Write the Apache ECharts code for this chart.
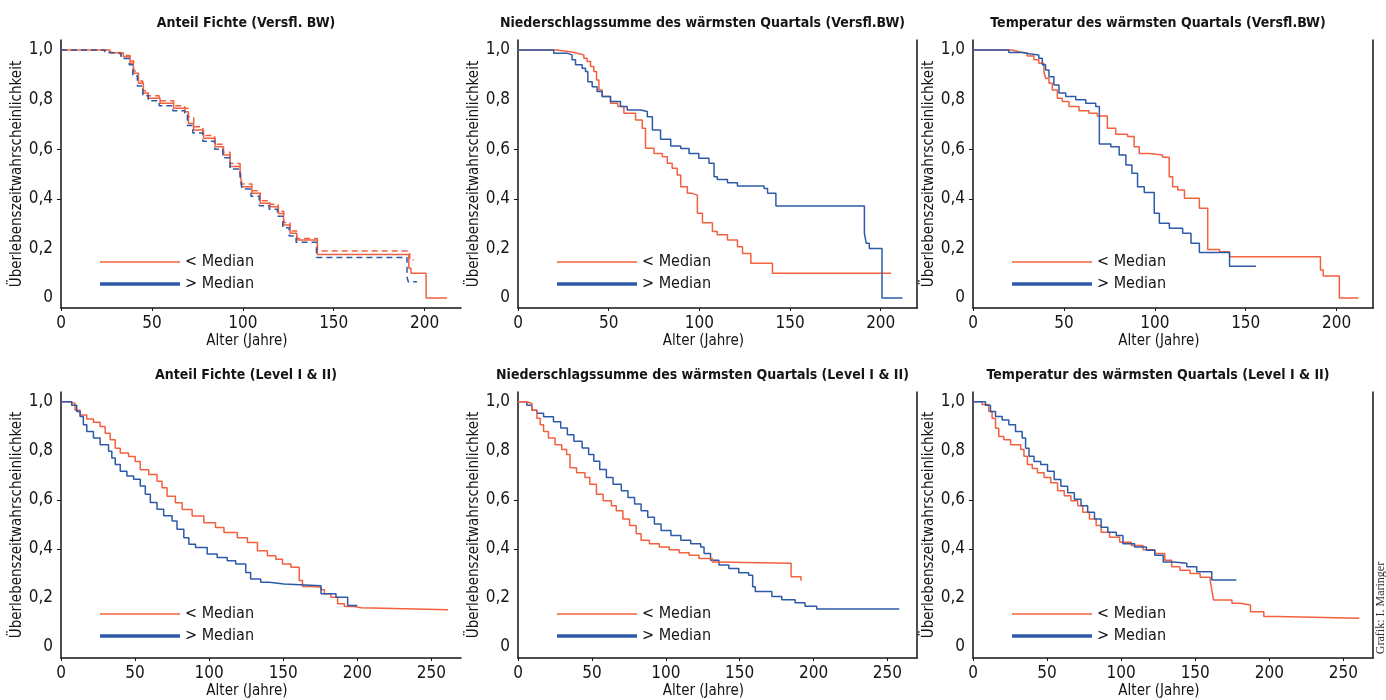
<!DOCTYPE html>
<html>
<head>
<meta charset="utf-8">
<script src="https://cdn.jsdelivr.net/npm/echarts@6/dist/echarts.min.js"></script>
<style>
  html, body { margin: 0; padding: 0; background: #fff; }
  #chart { width: 1386px; height: 700px; }
</style>
</head>
<body>
<div id="chart"></div>
<script>
// Kaplan-Meier survival curves: [age in years, survival probability]
const panelTitles = [
  'Anteil Fichte (Versfl. BW)',
  'Niederschlagssumme des wärmsten Quartals (Versfl.BW)',
  'Temperatur des wärmsten Quartals (Versfl.BW)',
  'Anteil Fichte (Level I & II)',
  'Niederschlagssumme des wärmsten Quartals (Level I & II)',
  'Temperatur des wärmsten Quartals (Level I & II)'
];
const legendLabels = ['< Median', '> Median'];
const yAxisTitle = 'Überlebenszeitwahrscheinlichkeit';
const xAxisTitle = 'Alter (Jahre)';
const creditText = 'Grafik: I. Maringer';
const yTickValues = [0, 0.2, 0.4, 0.6, 0.8, 1.0];
const yTickMarks = [0.4, 0.6];
const xTicksVersfl = [0, 50, 100, 150, 200];
const xTicksLevel = [0, 50, 100, 150, 200, 250];

// Anteil Fichte (Versfl. BW)
const fichteVersflLow = [[0,1],[23,1],[27,0.989],[34.3,0.973],[38,0.946],[39.8,0.906],[42.6,0.866],[45.3,0.826],[48,0.805],[54.5,0.785],[61.9,0.765],[68.3,0.751],[70.1,0.704],[72.9,0.677],[78.4,0.644],[84.8,0.61],[89.4,0.577],[93,0.53],[98.5,0.503],[99.5,0.449],[105,0.422],[109.6,0.382],[115,0.368],[119.6,0.341],[122.4,0.294],[126,0.261],[129.7,0.234],[141,0.176],[191.3,0.12],[192.5,0.1],[200.8,0],[212.3,0]];
const fichteVersflLowDashed = [[0,1],[22,1],[26,0.99],[33,0.978],[38,0.955],[40,0.915],[42.5,0.875],[45,0.835],[48,0.815],[54,0.795],[62,0.775],[68,0.765],[70,0.73],[73,0.69],[78,0.655],[84.5,0.62],[89,0.588],[93,0.542],[98.5,0.515],[99.5,0.46],[105,0.432],[109.5,0.392],[115,0.378],[119.5,0.35],[122.5,0.305],[126,0.27],[129.7,0.24],[141,0.19],[191.8,0.153],[194,0.153]];
const fichteVersflHighDashed = [[0,1],[20,1],[24,0.99],[27,0.985],[33,0.965],[37.5,0.94],[39.5,0.895],[42,0.855],[45,0.815],[48,0.795],[54,0.775],[61.5,0.755],[68,0.74],[69.5,0.695],[72.5,0.665],[78,0.632],[84.5,0.6],[89,0.565],[93,0.52],[98.5,0.49],[99.5,0.44],[104.5,0.41],[109,0.372],[114.5,0.358],[119,0.33],[122,0.283],[125.5,0.25],[129.3,0.225],[140.5,0.164],[190.3,0.085],[191,0.066],[195.8,0.066]];

// Niederschlagssumme des wärmsten Quartals (Versfl. BW)
const nsVersflLow = [[0,1],[21.5,0.993],[28.9,0.987],[32.6,0.98],[36.3,0.966],[38.1,0.953],[40,0.933],[41.8,0.913],[43.3,0.879],[44.6,0.839],[46.4,0.812],[51,0.785],[55,0.772],[58.4,0.745],[64.8,0.718],[68.5,0.684],[70.3,0.604],[75,0.583],[79.6,0.57],[82.3,0.543],[85,0.523],[87.8,0.496],[89.7,0.449],[93.4,0.422],[96,0.415],[98.9,0.342],[101.7,0.304],[107.2,0.268],[109.9,0.255],[115.5,0.234],[121,0.207],[123.8,0.18],[128.4,0.14],[140.3,0.1],[205.7,0.1]];
const nsVersflHigh = [[0,1],[19.7,0.987],[27.1,0.98],[29.8,0.96],[31.7,0.94],[35.4,0.926],[37.2,0.913],[38.5,0.872],[40.9,0.852],[43.6,0.832],[46.4,0.812],[51,0.792],[56.5,0.772],[60.2,0.758],[67.6,0.752],[71.3,0.731],[74.1,0.677],[78.6,0.64],[84.2,0.613],[89.7,0.603],[94.3,0.583],[99.7,0.563],[105.3,0.543],[108.1,0.489],[109.9,0.478],[115.5,0.465],[121,0.452],[135.7,0.442],[137.6,0.422],[142.2,0.371],[191,0.261],[192,0.221],[193.7,0.2],[200.7,0],[212,0]];

// Temperatur des wärmsten Quartals (Versfl. BW)
const tempVersflLow = [[0,1],[21.5,0.993],[25.2,0.987],[29.8,0.976],[33.5,0.96],[36.2,0.946],[39,0.913],[39.9,0.886],[41.8,0.866],[43.6,0.839],[46.4,0.805],[49.1,0.792],[52.8,0.772],[58.3,0.755],[63.8,0.745],[68.4,0.734],[73.9,0.684],[78.5,0.66],[85,0.651],[88.6,0.61],[91.4,0.583],[96.9,0.577],[104.3,0.567],[107.9,0.489],[109.8,0.449],[112.6,0.436],[116.3,0.402],[124.5,0.362],[129.1,0.196],[135.6,0.187],[141.1,0.167],[191.1,0.113],[192.6,0.089],[201.5,0],[212,0]];
const tempVersflHigh = [[0,1],[19.7,0.99],[27.1,0.984],[31.7,0.98],[36.2,0.966],[38.1,0.94],[39.9,0.919],[41.8,0.892],[44.5,0.859],[47.3,0.826],[51,0.812],[56.5,0.799],[62,0.785],[67.5,0.772],[69.5,0.621],[75.8,0.61],[80.4,0.577],[84.1,0.536],[87.4,0.503],[90.5,0.449],[94.2,0.425],[99.7,0.342],[102.5,0.302],[108,0.281],[115.3,0.261],[119.9,0.221],[124.5,0.184],[141.1,0.128],[155.6,0.128]];

// Anteil Fichte (Level I & II)
const fichteLevelLow = [[0,1],[6.1,0.993],[9.5,0.966],[12.9,0.946],[17.4,0.93],[21.9,0.917],[26.4,0.899],[29.8,0.872],[33.2,0.845],[36.6,0.811],[40,0.791],[45.6,0.777],[50.1,0.757],[53.5,0.723],[59.2,0.703],[64.8,0.676],[68.2,0.649],[71.6,0.615],[77.2,0.588],[81.8,0.561],[88.5,0.534],[96.4,0.507],[104.3,0.487],[110,0.467],[119,0.446],[125.8,0.426],[132.6,0.392],[139.3,0.372],[145,0.358],[149.5,0.338],[155.2,0.325],[160.8,0.271],[163,0.247],[169.8,0.244],[175.5,0.233],[177.8,0.217],[182.2,0.203],[186.7,0.176],[191.3,0.165],[198,0.16],[202.5,0.152],[261.3,0.152]];
const fichteLevelHigh = [[0,1],[7.2,0.986],[10.6,0.96],[12.9,0.94],[15.1,0.906],[17.4,0.879],[21.9,0.852],[26.4,0.825],[32.1,0.798],[34.3,0.771],[36.6,0.744],[40,0.717],[44.5,0.697],[49,0.684],[53.5,0.657],[56.9,0.623],[60.3,0.589],[64.8,0.562],[69.3,0.535],[75,0.514],[78.3,0.48],[82.9,0.446],[86.3,0.419],[90.8,0.406],[98.7,0.379],[105.4,0.365],[112.2,0.352],[117.9,0.338],[124.7,0.304],[128,0.277],[134.8,0.264],[140.5,0.257],[150.6,0.25],[175.5,0.217],[185.6,0.203],[193.5,0.169],[200,0.169]];

// Niederschlagssumme des wärmsten Quartals (Level I & II)
const nsLevelLow = [[0,1],[6,0.993],[9.4,0.966],[12.8,0.933],[15,0.906],[17.3,0.879],[20.6,0.852],[25.1,0.825],[29.6,0.805],[32.9,0.785],[35.2,0.731],[39.6,0.711],[45.3,0.691],[48.6,0.664],[53.1,0.623],[57.6,0.596],[63.2,0.576],[66.5,0.556],[71,0.522],[75.5,0.495],[80,0.462],[83.3,0.435],[88.9,0.421],[95.6,0.408],[102.4,0.397],[109.1,0.384],[115.8,0.374],[122.5,0.361],[131.5,0.347],[133.7,0.341],[184.8,0.286],[191.5,0.27]];
const nsLevelHigh = [[0,1],[6,0.986],[9.4,0.966],[12.8,0.953],[17.3,0.939],[24,0.919],[28.9,0.893],[33.4,0.866],[37.8,0.839],[43.4,0.812],[47.8,0.785],[51.3,0.758],[55.3,0.724],[59.8,0.691],[64.3,0.664],[69.9,0.637],[74.4,0.61],[78.9,0.583],[83.3,0.556],[87.8,0.529],[92.3,0.502],[96.8,0.475],[103.5,0.455],[110.2,0.435],[116.9,0.421],[123.6,0.408],[125.9,0.381],[130.3,0.354],[136,0.334],[142.7,0.32],[149.4,0.303],[156.1,0.293],[158.8,0.246],[160.6,0.226],[171.8,0.206],[178.5,0.193],[187.5,0.18],[194.2,0.166],[202.1,0.155],[258,0.155]];

// Temperatur des wärmsten Quartals (Level I & II)
const tempLevelLow = [[0,1],[6.1,0.989],[10.6,0.96],[12.9,0.933],[15.2,0.892],[17.4,0.858],[20.8,0.845],[25.4,0.825],[32.2,0.805],[34.4,0.778],[36.7,0.744],[40,0.728],[43.5,0.711],[48,0.691],[52.5,0.67],[57.1,0.637],[61.6,0.617],[66.1,0.596],[70.7,0.576],[74.1,0.549],[78.6,0.522],[83.1,0.495],[86.5,0.468],[92.2,0.448],[99,0.427],[106.9,0.414],[114.8,0.397],[122.7,0.381],[129.5,0.354],[134.1,0.327],[139.7,0.313],[146.5,0.3],[153.3,0.284],[160.1,0.273],[161.2,0.232],[162.4,0.192],[174.8,0.178],[180.5,0.171],[187.3,0.144],[196.3,0.124],[205.4,0.117],[260.8,0.117]];
const tempLevelHigh = [[0,1],[8.4,0.986],[11.8,0.96],[15.2,0.94],[19.7,0.926],[24.2,0.906],[28.7,0.879],[33.2,0.852],[35.5,0.811],[37.8,0.778],[41.2,0.757],[45.7,0.744],[50.3,0.717],[54.8,0.683],[59.3,0.656],[63.9,0.629],[68.4,0.603],[72.9,0.576],[77.4,0.549],[82,0.522],[86.5,0.488],[91,0.468],[96.7,0.455],[101.2,0.421],[109.1,0.408],[117,0.394],[122.7,0.374],[128.4,0.347],[135.2,0.341],[144.3,0.327],[151,0.307],[161.2,0.273],[177.8,0.273]];

const FONT = "'Liberation Sans Narrow', 'DejaVu Sans Condensed', 'Liberation Sans', sans-serif";
const ORANGE = '#f2603f';
const BLUE = '#2c5aa8';
const INK = '#151515';

// panel frames (pixels) and axis extents
const panels = [
  { left: 61,  top: 40,  width: 400, xMax: 220, yMin: -0.04,  xTicks: xTicksVersfl, border: false },
  { left: 518, top: 40,  width: 399, xMax: 220, yMin: -0.04,  xTicks: xTicksVersfl, border: true },
  { left: 973, top: 40,  width: 400, xMax: 220, yMin: -0.04,  xTicks: xTicksVersfl, border: true },
  { left: 61,  top: 392, width: 400, xMax: 270, yMin: -0.045, xTicks: xTicksLevel,  border: false },
  { left: 518, top: 392, width: 399, xMax: 270, yMin: -0.045, xTicks: xTicksLevel,  border: true },
  { left: 973, top: 392, width: 400, xMax: 270, yMin: -0.045, xTicks: xTicksLevel,  border: true }
];
const GRID_H = 268;
const Y_MAX = 1.04;

const curves = [
  [{ data: fichteVersflLow, color: ORANGE, name: legendLabels[0] },
   { data: fichteVersflLowDashed, color: ORANGE, name: legendLabels[0], dashed: true },
   { data: fichteVersflHighDashed, color: BLUE, name: legendLabels[1], dashed: true }],
  [{ data: nsVersflLow, color: ORANGE, name: legendLabels[0] },
   { data: nsVersflHigh, color: BLUE, name: legendLabels[1] }],
  [{ data: tempVersflLow, color: ORANGE, name: legendLabels[0] },
   { data: tempVersflHigh, color: BLUE, name: legendLabels[1] }],
  [{ data: fichteLevelLow, color: ORANGE, name: legendLabels[0] },
   { data: fichteLevelHigh, color: BLUE, name: legendLabels[1] }],
  [{ data: nsLevelHigh, color: BLUE, name: legendLabels[1] },
   { data: nsLevelLow, color: ORANGE, name: legendLabels[0] }],
  [{ data: tempLevelLow, color: ORANGE, name: legendLabels[0] },
   { data: tempLevelHigh, color: BLUE, name: legendLabels[1] }]
];

const axisLineStyle = { color: INK, width: 1.5 };
const fmtY = v => (v === 0 ? '0' : v.toFixed(1).replace('.', ','));

const grid = [], xAxis = [], yAxis = [], series = [], legend = [], graphic = [];

panels.forEach((p, i) => {
  grid.push({ left: p.left, top: p.top, width: p.width, height: GRID_H, containLabel: false });

  xAxis.push({
    type: 'value', gridIndex: i, min: 0, max: p.xMax,
    name: xAxisTitle, nameLocation: 'middle', nameGap: 26,
    nameTextStyle: { fontFamily: FONT, fontSize: 15, color: INK, padding: [0, 28, 0, 0], verticalAlign: 'top' },
    axisLine: { show: true, lineStyle: axisLineStyle, onZero: false },
    axisTick: { show: true, length: 3, customValues: p.xTicks, lineStyle: { color: INK } },
    axisLabel: { customValues: p.xTicks, margin: 7, fontFamily: FONT, fontSize: 17, color: INK },
    splitLine: { show: false }
  });

  yAxis.push({
    type: 'value', gridIndex: i, min: p.yMin, max: Y_MAX,
    name: yAxisTitle, nameLocation: 'middle', nameGap: 34,
    nameTextStyle: { fontFamily: FONT, fontSize: 15, color: INK },
    axisLine: { show: true, lineStyle: axisLineStyle, onZero: false },
    axisTick: { show: true, length: 4, customValues: yTickMarks, lineStyle: { color: INK } },
    axisLabel: { customValues: yTickValues, formatter: fmtY, margin: 8, fontFamily: FONT, fontSize: 17, color: INK },
    splitLine: { show: false }
  });

  // Panel title
  graphic.push({
    type: 'text', x: p.left + p.width / 2 - 15, y: p.top - 17,
    style: { text: panelTitles[i], font: "bold 14px " + FONT, fill: INK, align: 'center', verticalAlign: 'middle' },
    silent: true
  });

  // Legend entries: thin orange line, thick blue line
  const legendTop = p.top + 214;
  legend.push({
    left: p.left + 39, top: legendTop, padding: 0, orient: 'vertical',
    data: [legendLabels[0]], icon: 'rect', itemWidth: 80, itemHeight: 1.6,
    itemStyle: { color: ORANGE }, selectedMode: false,
    textStyle: { fontFamily: FONT, fontSize: 16, color: INK }
  });
  legend.push({
    left: p.left + 39, top: legendTop + 22, padding: 0, orient: 'vertical',
    data: [legendLabels[1]], icon: 'rect', itemWidth: 80, itemHeight: 3.6,
    itemStyle: { color: BLUE }, selectedMode: false,
    textStyle: { fontFamily: FONT, fontSize: 16, color: INK }
  });

  curves[i].forEach(c => {
    series.push({
      type: 'line', name: c.name, xAxisIndex: i, yAxisIndex: i,
      data: c.data, step: 'end', showSymbol: false, symbol: 'none',
      color: c.color,
      lineStyle: { color: c.color, width: 1.5, type: c.dashed ? [6, 4] : 'solid' },
      animation: false, silent: true
    });
  });
});

// right-hand frame line for the panels that have one
panels.forEach((p, i) => {
  if (!p.border) return;
  yAxis.push({
    type: 'value', gridIndex: i, position: 'right', min: p.yMin, max: Y_MAX,
    axisLine: { show: true, lineStyle: axisLineStyle, onZero: false },
    axisTick: { show: false }, axisLabel: { show: false }, splitLine: { show: false }
  });
});

// credit line, rotated along the right edge
graphic.push({
  type: 'text', x: 1381, y: 608, rotation: Math.PI / 2,
  style: { text: creditText, font: "12px 'Liberation Serif', serif", fill: '#333', align: 'center', verticalAlign: 'middle' },
  silent: true
});

const chart = echarts.init(document.getElementById('chart'), null, { renderer: 'canvas' });
chart.setOption({
  backgroundColor: '#ffffff',
  animation: false,
  grid, xAxis, yAxis, series, legend, graphic
});
</script>
</body>
</html>
